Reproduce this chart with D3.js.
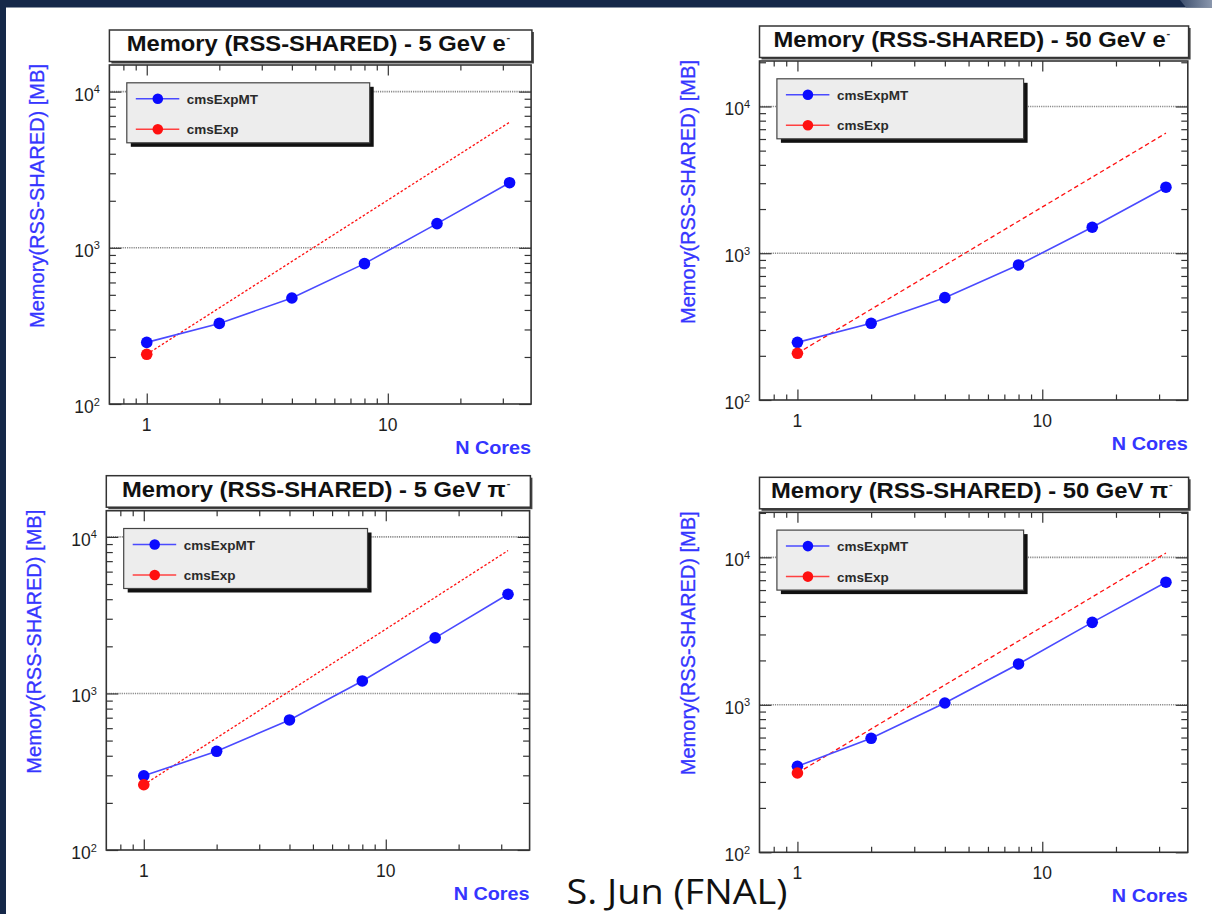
<!DOCTYPE html>
<html><head><meta charset="utf-8">
<script src="https://cdn.jsdelivr.net/npm/d3@7"></script>
<style>html,body{margin:0;padding:0;background:#fff;} svg{display:block;}</style>
</head><body>
<svg id="c" width="1212" height="914"></svg>
<script>
// ---------------- data ----------------
const cores = [1, 2, 4, 8, 16, 32];
const mt_5GeV_e   = [248, 328, 477, 792, 1429, 2610];
const mt_50GeV_e  = [247, 333, 498, 832, 1503, 2818];
const mt_5GeV_pi  = [298, 427, 677, 1202, 2265, 4303];
const mt_50GeV_pi = [383, 593, 1029, 1892, 3623, 6780];
const seq_1core   = [208, 208, 261, 345];       // cmsExp at 1 core
const ideal_32core = [6370, 6580, 8180, 10700]; // dashed extrapolation end at 32 cores
const idealCores = [1, 32];
const titleEnergy = ["5 GeV", "50 GeV", "5 GeV", "50 GeV"];
const titleParticle = ["e", "e", "\u03c0", "\u03c0"];
const legendLabels = ["cmsExpMT", "cmsExp"];
const yMajorTicks = [100, 1000, 10000];
const yTickExponents = ["2", "3", "4"];
const yMinorTicks = [200, 300, 400, 500, 600, 700, 800, 900, 2000, 3000, 4000, 5000, 6000, 7000, 8000, 9000, 20000];
const xMajorTicks = [1, 10];
const xTickLabels = ["1", "10"];
const xMinorTicks = [0.8, 0.9, 2, 3, 4, 5, 6, 7, 8, 9, 20, 30];
const xAxisRange = [0.7, 39.3];
const yAxisMax = [14800, 20400, 14700, 20200];
const xAxisTitle = "N Cores";
const yAxisTitle = "Memory(RSS-SHARED) [MB]";
const footer = "S. Jun (FNAL)";
const mtSeries = [mt_5GeV_e, mt_50GeV_e, mt_5GeV_pi, mt_50GeV_pi];

// ---------------- layout ----------------
const layout = [
  {x0: 109.4, x1: 531.1, y0: 65,    y1: 404},
  {x0: 759.5, x1: 1187.8, y0: 61,   y1: 400},
  {x0: 106.3, x1: 529.6, y0: 510.7, y1: 850},
  {x0: 759.5, x1: 1187.8, y0: 512.3, y1: 852.3}
];
const BLUE = "#0a0aff", RED = "#ff1010", AX = "#333";
const svg = d3.select("#c");

// slide background
svg.append("rect").attr("x", 0).attr("y", 0).attr("width", 1212).attr("height", 914).attr("fill", "#fff");
svg.append("rect").attr("x", 0).attr("y", 0).attr("width", 1212).attr("height", 7.5).attr("fill", "#152849");
svg.append("rect").attr("x", 0).attr("y", 0).attr("width", 6).attr("height", 914).attr("fill", "#152849");
const gr = svg.append("defs").append("linearGradient").attr("id", "cg").attr("x1", 0).attr("x2", 1);
gr.append("stop").attr("offset", 0).attr("stop-color", "#3d4f6e");
gr.append("stop").attr("offset", 1).attr("stop-color", "#8a97ad");
svg.append("polygon").attr("points", "1180,0 1212,0 1212,7.5 1186,7.5").attr("fill", "url(#cg)");

function stretch(sel, f) {
  const n = sel.node();
  const w = n.getComputedTextLength();
  sel.attr("textLength", w * f).attr("lengthAdjust", "spacingAndGlyphs");
  return w * f;
}

function drawPanel(i) {
  const L = layout[i];
  const g = svg.append("g");
  const x = d3.scaleLog().domain(xAxisRange).range([L.x0, L.x1]);
  const y = d3.scaleLog().domain([100, yAxisMax[i]]).range([L.y1, L.y0]);
  const inY = v => v >= 100 && v <= yAxisMax[i];

  // title box
  const bx0 = L.x0, bx1 = L.x1 + 0.8, by0 = L.y0 - 35, by1 = L.y0 - 3.5;
  g.append("rect").attr("x", bx0 + 2).attr("y", by0 + 2).attr("width", bx1 - bx0).attr("height", by1 - by0).attr("fill", "#444");
  g.append("rect").attr("x", bx0).attr("y", by0).attr("width", bx1 - bx0).attr("height", by1 - by0)
    .attr("fill", "#fff").attr("stroke", AX).attr("stroke-width", 1.5);
  const tt = g.append("text").attr("x", 0).attr("y", by0 + 21)
    .attr("font-family", "Liberation Sans, Arial, sans-serif").attr("font-weight", "bold").attr("font-size", 22).attr("fill", "#111")
    .text("Memory (RSS-SHARED) - " + titleEnergy[i] + " " + titleParticle[i]);
  const tw = stretch(tt, 1.08);
  const cx = (bx0 + bx1) / 2 - 1;
  const tx = cx - (tw + 7) / 2;
  tt.attr("x", tx);
  g.append("text").attr("x", tx + tw + 1).attr("y", by0 + 11)
    .attr("font-family", "Liberation Sans, Arial, sans-serif").attr("font-weight", "bold").attr("font-size", 11).attr("fill", "#333")
    .text("-");

  // grid
  g.selectAll(".grid").data(yMajorTicks.filter(v => v > 100 && inY(v))).join("line")
    .attr("x1", L.x0).attr("x2", L.x1).attr("y1", d => y(d)).attr("y2", d => y(d))
    .attr("stroke", "#8a8a8a").attr("stroke-width", 1.6).attr("stroke-dasharray", "1.2,1");

  // axis ticks (ROOT style, inside, mirrored)
  function ticks(axisFn, scale, vals, size, tr) {
    const a = g.append("g").attr("transform", tr)
      .call(axisFn(scale).tickValues(vals).tickSize(size).tickFormat(""));
    a.select(".domain").remove();
    a.selectAll("line").attr("stroke", AX).attr("stroke-width", 1.2);
    a.selectAll("text").remove();
  }
  ticks(d3.axisBottom, x, xMajorTicks, -10.5, `translate(0,${L.y1})`);
  ticks(d3.axisBottom, x, xMinorTicks, -5.5, `translate(0,${L.y1})`);
  ticks(d3.axisTop, x, xMajorTicks, -10.5, `translate(0,${L.y0})`);
  ticks(d3.axisTop, x, xMinorTicks, -5.5, `translate(0,${L.y0})`);
  ticks(d3.axisLeft, y, yMajorTicks.filter(inY), -12, `translate(${L.x0},0)`);
  ticks(d3.axisLeft, y, yMinorTicks.filter(inY), -6.5, `translate(${L.x0},0)`);
  ticks(d3.axisRight, y, yMajorTicks.filter(inY), -12, `translate(${L.x1},0)`);
  ticks(d3.axisRight, y, yMinorTicks.filter(inY), -6.5, `translate(${L.x1},0)`);

  // tick labels
  g.selectAll(".xl").data(xMajorTicks).join("text")
    .attr("x", d => x(d)).attr("y", L.y1 + 27).attr("text-anchor", "middle")
    .attr("font-family", "Liberation Sans, Arial, sans-serif").attr("font-size", 17.5).attr("fill", "#1e1e1e")
    .text((d, k) => xTickLabels[k]);
  yMajorTicks.forEach((v, k) => {
    if (!inY(v)) return;
    const t = g.append("text").attr("x", L.x0 - 9.5).attr("y", y(v) + 9).attr("text-anchor", "end")
      .attr("font-family", "Liberation Sans, Arial, sans-serif").attr("font-size", 17.5).attr("fill", "#1e1e1e");
    t.append("tspan").text("10");
    t.append("tspan").attr("dy", -7.4).attr("font-size", 11).text(yTickExponents[k]);
  });

  // axis titles
  const xt = g.append("text").attr("x", L.x1).attr("y", L.y1 + 50).attr("text-anchor", "end")
    .attr("font-family", "Liberation Sans, Arial, sans-serif").attr("font-size", 18.5).attr("font-weight", "bold")
    .attr("fill", "#3535ff").text(xAxisTitle);
  stretch(xt, 1.07);
  const ycx = L.x0 - 72;
  const yt = g.append("text").attr("transform", `translate(${ycx + 7},${L.y0 - 1}) rotate(-90)`)
    .attr("text-anchor", "end")
    .attr("font-family", "Liberation Sans, Arial, sans-serif").attr("font-size", 20)
    .attr("fill", "#3535ff").attr("stroke", "#3535ff").attr("stroke-width", 0.3).text(yAxisTitle);
  yt.attr("textLength", 264).attr("lengthAdjust", "spacingAndGlyphs");

  // data
  const line = d3.line().x(d => x(d[0])).y(d => y(d[1]));
  const idealPts = [[idealCores[0], seq_1core[i]], [idealCores[1], ideal_32core[i]]];
  g.append("path").attr("d", line(idealPts)).attr("fill", "none")
    .attr("stroke", RED).attr("stroke-width", 1.3).attr("stroke-dasharray", i % 2 === 0 ? "2.5,2" : "4.5,3");
  const pts = cores.map((c, k) => [c, mtSeries[i][k]]);
  g.append("path").attr("d", line(pts)).attr("fill", "none").attr("stroke", "#4a4aff").attr("stroke-width", 1.6);
  g.selectAll(".mt").data(pts).join("circle").attr("cx", d => x(d[0])).attr("cy", d => y(d[1])).attr("r", 5.8).attr("fill", BLUE);
  g.append("circle").attr("cx", x(1)).attr("cy", y(seq_1core[i])).attr("r", 5.8).attr("fill", RED);

  // legend
  const lx0 = L.x0 + 17.4, lw = (L.x1 - L.x0) * 0.576, ly0 = L.y0 + 17.8, lh = 60;
  g.append("rect").attr("x", lx0 + 4).attr("y", ly0 + 4).attr("width", lw).attr("height", lh).attr("fill", "#111");
  g.append("rect").attr("x", lx0).attr("y", ly0).attr("width", lw).attr("height", lh)
    .attr("fill", "#ededed").attr("stroke", "#444").attr("stroke-width", 1.2);
  const entryColors = [BLUE, RED];
  const lineColors = ["#4a4aff", "#ff4040"];
  legendLabels.forEach((lab, k) => {
    const ey = ly0 + (k === 0 ? 16 : 46.5);
    g.append("line").attr("x1", lx0 + 9).attr("x2", lx0 + 52.5).attr("y1", ey).attr("y2", ey)
      .attr("stroke", lineColors[k]).attr("stroke-width", 1.5);
    g.append("circle").attr("cx", lx0 + 31).attr("cy", ey).attr("r", 5.3).attr("fill", entryColors[k]);
    g.append("text").attr("x", lx0 + 60).attr("y", ey + 5)
      .attr("font-family", "Liberation Sans, Arial, sans-serif").attr("font-weight", "bold").attr("font-size", 13.5)
      .attr("fill", "#2a2a2a").text(lab);
  });

  // frame
  g.append("rect").attr("x", L.x0).attr("y", L.y0).attr("width", L.x1 - L.x0).attr("height", L.y1 - L.y0)
    .attr("fill", "none").attr("stroke", AX).attr("stroke-width", 1.6);
}

[0, 1, 2, 3].forEach(drawPanel);

// footer
const ft = svg.append("text").attr("x", 566.5).attr("y", 903.5)
  .attr("font-family", "Open Sans, Noto Sans, sans-serif").attr("font-size", 35).attr("fill", "#111").text(footer);
ft.attr("textLength", 221).attr("lengthAdjust", "spacingAndGlyphs");
</script>
</body></html>
